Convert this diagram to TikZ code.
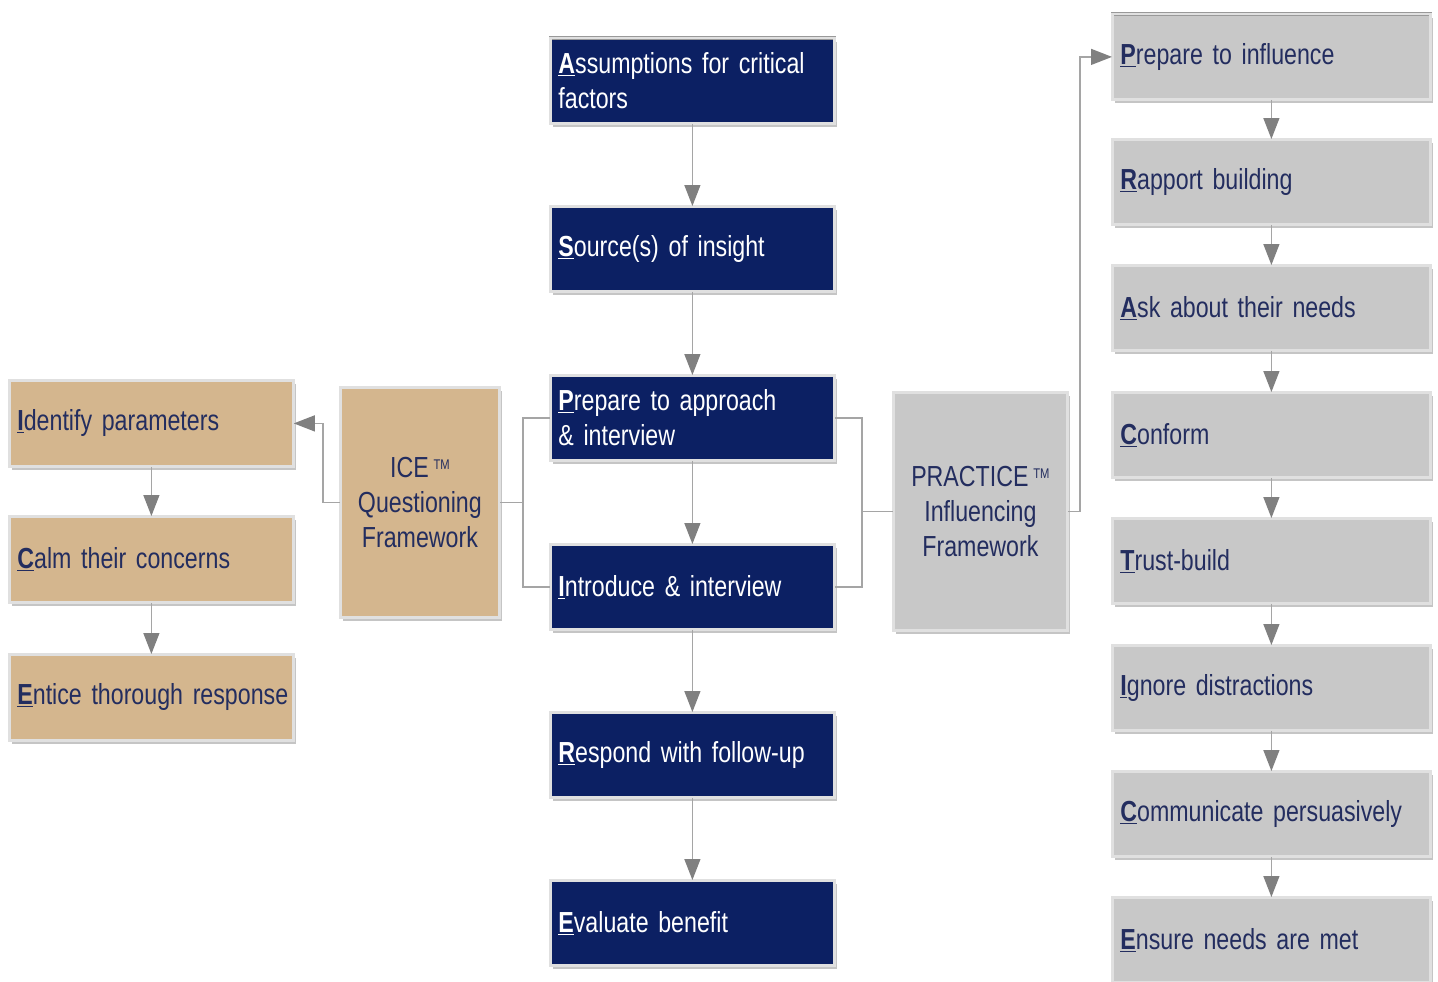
\documentclass[tikz,border=0pt]{standalone}
\usepackage{fontspec}
\setmainfont{Liberation Sans}[FakeStretch=0.80]
\usetikzlibrary{shadows,arrows.meta,calc}
\definecolor{navy}{RGB}{12,32,99}
\definecolor{ink}{RGB}{35,45,95}
\definecolor{tan}{RGB}{212,182,142}
\definecolor{boxgray}{RGB}{200,200,200}
\definecolor{arrgray}{RGB}{128,128,128}
\definecolor{lingray}{RGB}{165,165,165}
\newcommand{\fl}[1]{\underline{\textbf{#1}}}
\newcommand{\tmark}{\,\raisebox{8pt}{\fontsize{14}{14}\selectfont TM}}
\newcommand{\boxfont}{\fontsize{29}{35}\selectfont}
\tikzset{
  basebox/.style={rectangle, draw=black!40, double=black!12, double distance=2.2pt, line width=0.8pt,
    drop shadow={shadow xshift=3pt, shadow yshift=-4pt, opacity=0.45},
    font=\boxfont, inner xsep=8pt, align=left, anchor=north west},
  navybox/.style={basebox, fill=navy, text=white, minimum width=284pt, minimum height=85pt, text width=268pt},
  tanbox/.style={basebox, fill=tan, text=ink, minimum width=284pt, minimum height=86pt, text width=268pt},
  graybox/.style={basebox, fill=boxgray, text=ink, minimum width=318pt, minimum height=85pt, text width=302pt},
  framebox/.style={basebox, align=center, text=ink, inner xsep=2pt},
  arr/.style={draw=lingray, line width=1.3pt, -{Triangle[width=16pt,length=21pt,fill=arrgray,color=arrgray]}},
  conn/.style={draw=lingray, line width=1.3pt},
}
\begin{document}
\begin{tikzpicture}[x=1pt,y=-1pt]
\useasboundingbox[fill=white] (0,0) rectangle (1438,982);
% centre column
\node[navybox] (ass) at (550,38) {\fl{A}ssumptions for critical\\factors};
\node[navybox] (src) at (550,206) {\fl{S}ource(s) of insight};
\node[navybox] (prep) at (550,375) {\fl{P}repare to approach\\\& interview};
\node[navybox] (intro) at (550,544) {\fl{I}ntroduce \& interview};
\node[navybox] (resp) at (550,712) {\fl{R}espond with follow-up};
\node[navybox] (eval) at (550,880) {\fl{E}valuate benefit};
% left column
\node[tanbox] (ident) at (9,380) {\fl{I}dentify parameters};
\node[tanbox] (calm) at (9,516) {\fl{C}alm their concerns};
\node[tanbox] (ent) at (9,654) {\mbox{\fl{E}ntice thorough response}};
\node[framebox, fill=tan, minimum width=159pt, minimum height=230pt] (ice) at (340,387)
  {ICE\tmark\\Questioning\\Framework};
% right
\node[framebox, fill=boxgray, minimum width=174pt, minimum height=238pt] (pr) at (893,392)
  {PRACTICE\tmark\\Influencing\\Framework};
\node[graybox] (g1) at (1112,14) {\fl{P}repare to influence};
\node[graybox] (g2) at (1112,139) {\fl{R}apport building};
\node[graybox] (g3) at (1112,265) {\fl{A}sk about their needs};
\node[graybox] (g4) at (1112,392) {\fl{C}onform};
\node[graybox] (g5) at (1112,518) {\fl{T}rust-build};
\node[graybox] (g6) at (1112,645) {\fl{I}gnore distractions};
\node[graybox] (g7) at (1112,771) {\fl{C}ommunicate persuasively};
\node[graybox] (g8) at (1112,897) {\fl{E}nsure needs are met};
% junction coordinates
\coordinate (bl) at (523,0);
\coordinate (br) at (862,0);
\coordinate (cl) at (323,0);
\coordinate (cr) at (1080,0);
% vertical arrows
\draw[arr] (ass.south) -- (src.north);
\draw[arr] (src.south) -- (prep.north);
\draw[arr] (prep.south) -- (intro.north);
\draw[arr] (intro.south) -- (resp.north);
\draw[arr] (resp.south) -- (eval.north);
\draw[arr] (ident.south) -- (calm.north);
\draw[arr] (calm.south) -- (ent.north);
\draw[arr] (g1.south) -- (g2.north);
\draw[arr] (g2.south) -- (g3.north);
\draw[arr] (g3.south) -- (g4.north);
\draw[arr] (g4.south) -- (g5.north);
\draw[arr] (g5.south) -- (g6.north);
\draw[arr] (g6.south) -- (g7.north);
\draw[arr] (g7.south) -- (g8.north);
% brackets
\draw[conn] (prep.west) -- (prep.west -| bl) -- (intro.west -| bl) -- (intro.west);
\draw[conn] (ice.east) -- (ice.east -| bl);
\draw[conn] (prep.east) -- (prep.east -| br) -- (intro.east -| br) -- (intro.east);
\draw[conn] (pr.west -| br) -- (pr.west);
\draw[arr] (ice.west) -- (ice.west -| cl) -- (ident.east -| cl) -- (ident.east);
\draw[arr] (pr.east) -- (pr.east -| cr) -- (g1.west -| cr) -- (g1.west);
\end{tikzpicture}
\end{document}
